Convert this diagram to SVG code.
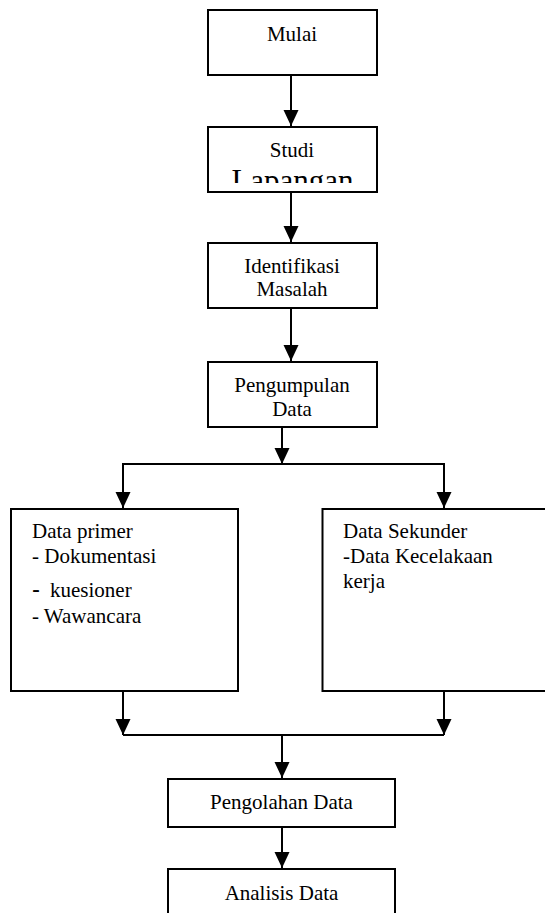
<svg xmlns="http://www.w3.org/2000/svg" width="545" height="913" viewBox="0 0 545 913">
<style>
.box{fill:#fff;stroke:#000;stroke-width:2}
.ln{fill:none;stroke:#000;stroke-width:2}
text{font-family:'Liberation Serif','Times New Roman',Times,serif;font-size:21px;fill:#000}
.c{text-anchor:middle}
</style>
<defs>
<marker id="ah" markerUnits="userSpaceOnUse" markerWidth="16" markerHeight="16" refX="16" refY="7.5" orient="auto">
<path d="M0,0 L16,7.5 L0,15 z" fill="#000"/>
</marker>
<clipPath id="studiClip"><rect x="209" y="128" width="167" height="55"/></clipPath>
</defs>
<rect width="545" height="913" fill="#fff"/>
<g id="connectors">
<line class="ln" x1="291" y1="75" x2="291" y2="126" marker-end="url(#ah)"/>
<line class="ln" x1="291" y1="192" x2="291" y2="242" marker-end="url(#ah)"/>
<line class="ln" x1="291" y1="308" x2="291" y2="361" marker-end="url(#ah)"/>
<line class="ln" x1="282" y1="427" x2="282" y2="464" marker-end="url(#ah)"/>
<line class="ln" x1="122" y1="464" x2="445" y2="464"/>
<line class="ln" x1="123" y1="464" x2="123" y2="508" marker-end="url(#ah)"/>
<line class="ln" x1="444" y1="464" x2="444" y2="508" marker-end="url(#ah)"/>
<line class="ln" x1="123" y1="691" x2="123" y2="735" marker-end="url(#ah)"/>
<line class="ln" x1="444" y1="691" x2="444" y2="735" marker-end="url(#ah)"/>
<line class="ln" x1="123" y1="735" x2="444" y2="735"/>
<line class="ln" x1="282" y1="735" x2="282" y2="778" marker-end="url(#ah)"/>
<line class="ln" x1="282" y1="827" x2="282" y2="868" marker-end="url(#ah)"/>
</g>
<g id="mulai">
<rect class="box" x="208" y="10" width="169" height="65"/>
<text class="c" x="292" y="41">Mulai</text>
</g>
<g id="studi">
<rect class="box" x="208" y="127" width="169" height="65"/>
<text class="c" x="292" y="157">Studi</text>
<text class="c" x="292.5" y="190.5" style="font-size:31px" clip-path="url(#studiClip)">Lapangan</text>
</g>
<g id="identifikasi">
<rect class="box" x="208" y="243" width="169" height="65"/>
<text class="c" x="292" y="273">Identifikasi</text>
<text class="c" x="292" y="296">Masalah</text>
</g>
<g id="pengumpulan">
<rect class="box" x="208" y="362" width="169" height="65"/>
<text class="c" x="292" y="392">Pengumpulan</text>
<text class="c" x="292" y="416">Data</text>
</g>
<g id="primer">
<rect class="box" x="11" y="509" width="227" height="182"/>
<text x="32" y="538">Data primer</text>
<text x="32" y="563">- Dokumentasi</text>
<text x="32" y="597"><tspan style="font-family:'Liberation Sans',Arial,sans-serif;font-size:24px">-</tspan><tspan x="50">kuesioner</tspan></text>
<text x="32" y="623">- Wawancara</text>
</g>
<g id="sekunder">
<rect class="box" x="322.5" y="509" width="240" height="182"/>
<text x="343" y="538">Data Sekunder</text>
<text x="343" y="563">-Data Kecelakaan</text>
<text x="343" y="588">kerja</text>
</g>
<g id="pengolahan">
<rect class="box" x="168" y="779" width="227" height="48"/>
<text class="c" x="281.5" y="809">Pengolahan Data</text>
</g>
<g id="analisis">
<rect class="box" x="168" y="869" width="227" height="60"/>
<text class="c" x="281.5" y="900">Analisis Data</text>
</g>
</svg>
